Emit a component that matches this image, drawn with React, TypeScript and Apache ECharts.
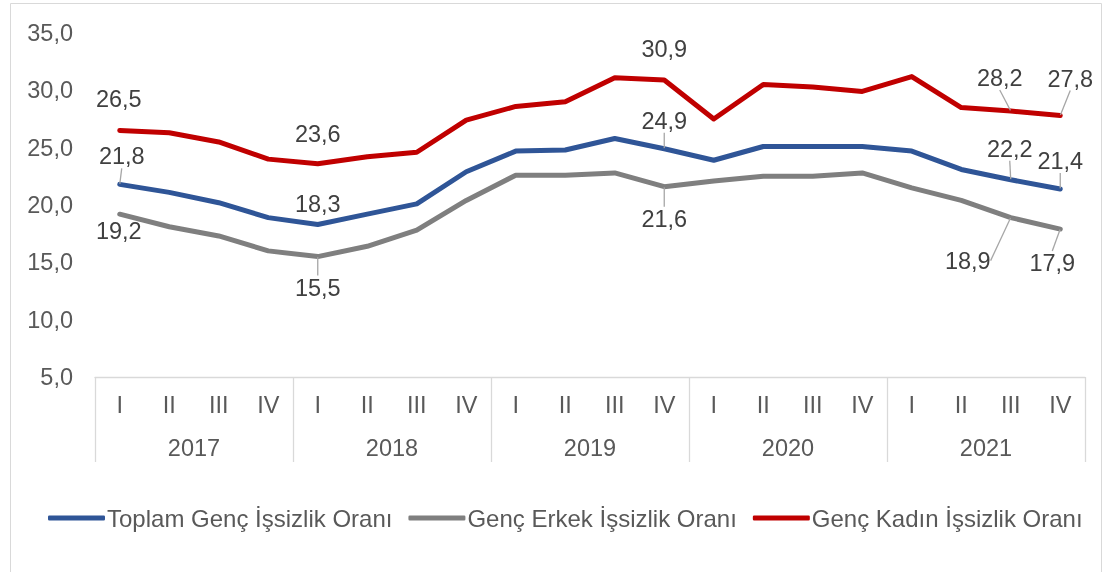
import React, { useEffect, useRef } from "react";
import * as echarts from "echarts";

const quarters = ["I", "II", "III", "IV", "I", "II", "III", "IV", "I", "II", "III", "IV", "I", "II", "III", "IV", "I", "II", "III", "IV"];
const years = ["2017", "2018", "2019", "2020", "2021"];
const yTicks = { min: 5, max: 35, interval: 5 };

const toplam = [21.8, 21.1, 20.2, 18.9, 18.3, 19.2, 20.1, 22.9, 24.7, 24.8, 25.8, 24.9, 23.9, 25.1, 25.1, 25.1, 24.7, 23.1, 22.2, 21.4];
const erkek = [19.2, 18.1, 17.3, 16.0, 15.5, 16.4, 17.8, 20.4, 22.6, 22.6, 22.8, 21.6, 22.1, 22.5, 22.5, 22.8, 21.5, 20.4, 18.9, 17.9];
const kadin = [26.5, 26.3, 25.5, 24.0, 23.6, 24.2, 24.6, 27.4, 28.6, 29.0, 31.1, 30.9, 27.5, 30.5, 30.3, 29.9, 31.2, 28.5, 28.2, 27.8];

const seriesNames = ["Toplam Genç İşsizlik Oranı", "Genç Erkek İşsizlik Oranı", "Genç Kadın İşsizlik Oranı"];
const seriesColors = ["#2F5597", "#7F7F7F", "#C00000"];

// label placement: [dataIndex, dx, dy, leaderLine]
const labelPlacement: Array<Array<[number, number, number, boolean]>> = [
  [[0, 2, -28, true], [4, 0, -20, false], [11, 0, -28, true], [18, -1, -31, true], [19, 0, -28, true]],
  [[0, -1, 17, false], [4, 0, 31, true], [11, 0, 32, true], [18, -43, 43, true], [19, -8, 34, true]],
  [[0, -1, -31, false], [4, 0, -30, false], [11, 0, -31, false], [18, -11, -33, true], [19, 10, -37, true]],
];

const fmt = (v: number) => v.toFixed(1).replace(".", ",");
const FONT = "Liberation Sans, Arial, sans-serif";
const FS = 23.5;

export default function App() {
  const ref = useRef<HTMLDivElement>(null);
  useEffect(() => {
    if (!ref.current) return;
    const chart = echarts.init(ref.current, undefined, { renderer: "svg" });
    const allData = [toplam, erkek, kadin];
    const series = allData.map((arr, si) => {
      const place = labelPlacement[si];
      return {
        name: seriesNames[si],
        type: "line",
        xAxisIndex: 0,
        symbol: "circle",
        symbolSize: 1,
        showSymbol: true,
        lineStyle: { width: 5, color: seriesColors[si], cap: "round", join: "round" },
        itemStyle: { color: seriesColors[si] },
        labelLine: { show: true, lineStyle: { color: "#A6A6A6", width: 1.3 } },
        labelLayout: (params: any) => {
          const p = place.find((q) => q[0] === params.dataIndex);
          if (!p) return {};
          return { dx: p[1], dy: p[2] };
        },
        data: arr.map((v, i) => {
          const p = place.find((q) => q[0] === i);
          if (!p) return { value: v, label: { show: false } };
          return {
            value: v,
            label: {
              show: true,
              position: "inside",
              formatter: (d: any) => fmt(d.value),
              fontSize: FS,
              color: "#404040",
              fontFamily: FONT,
            },
            labelLine: { show: p[3], lineStyle: { color: "#A6A6A6", width: 1.3 } },
          };
        }),
        z: si === 2 ? 3 : si === 0 ? 2 : 1,
      };
    });
    chart.setOption({
      animation: false,
      textStyle: { fontFamily: FONT },
      grid: { left: 95, right: 19, top: 33, bottom: 195 },
      graphic: [
        {
          type: "rect",
          shape: { x: 10.5, y: 3.5, width: 1091, height: 620 },
          style: { fill: "none", stroke: "#D9D9D9", lineWidth: 1 },
          silent: true,
        },
      ],
      legend: {
        left: 43,
        top: 501,
        icon: "roundRect",
        itemWidth: 57,
        itemHeight: 5,
        itemGap: 16,
        data: seriesNames,
        textStyle: { fontSize: 24, color: "#595959", fontFamily: FONT, padding: [0, 0, 0, -3] },
      },
      xAxis: [
        {
          type: "category",
          data: quarters,
          position: "bottom",
          axisLine: { show: true, lineStyle: { color: "#D9D9D9", width: 1.3 } },
          axisTick: { show: false },
          axisLabel: { interval: 0, margin: 16, fontSize: FS, color: "#595959", fontFamily: FONT },
        },
        {
          type: "category",
          data: years,
          position: "bottom",
          axisLine: { show: false },
          axisTick: { show: true, length: 85, lineStyle: { color: "#D9D9D9", width: 1.3 } },
          axisLabel: { interval: 0, margin: 59, fontSize: FS, color: "#595959", fontFamily: FONT },
        },
      ],
      yAxis: {
        type: "value",
        min: yTicks.min,
        max: yTicks.max,
        interval: yTicks.interval,
        axisLine: { show: false },
        axisTick: { show: false },
        splitLine: { show: false },
        axisLabel: { margin: 22, fontSize: FS, color: "#595959", fontFamily: FONT, formatter: (v: number) => fmt(v) },
      },
      series,
    });
    return () => chart.dispose();
  }, []);
  return <div ref={ref} style={{ position: "fixed", left: 0, top: 0, width: 1104, height: 572 }} />;
}
